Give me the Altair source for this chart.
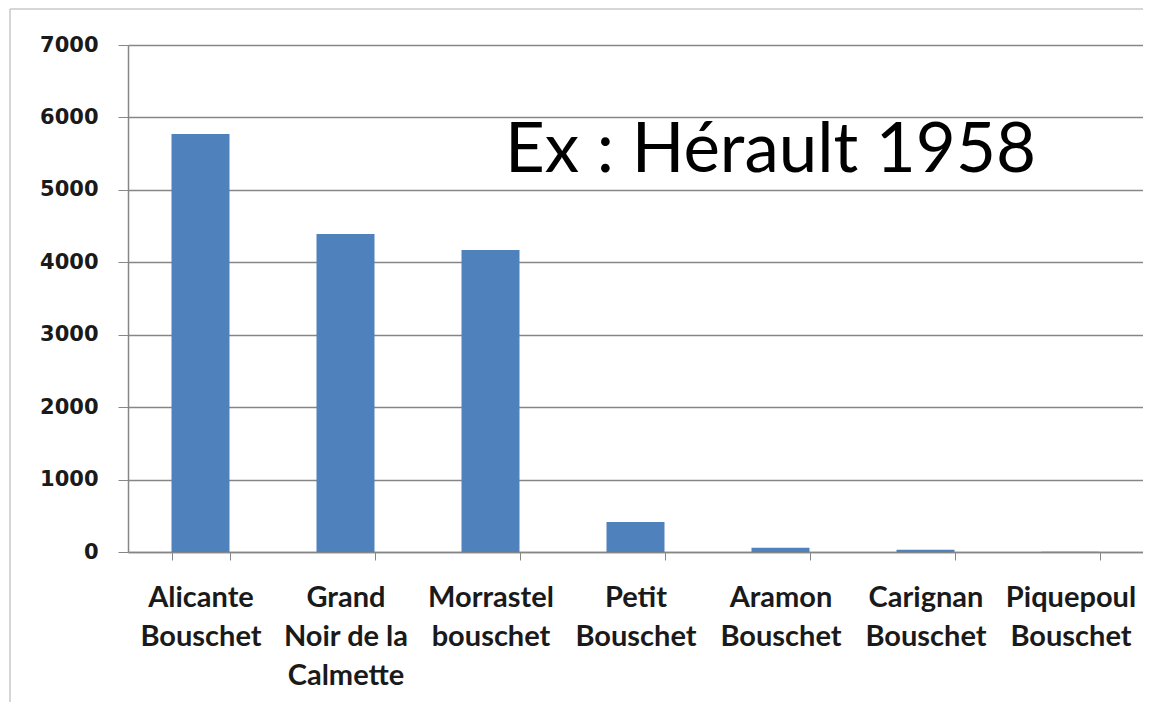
import altair as alt
import pandas as pd

categories = [
    "Alicante\nBouschet",
    "Grand\nNoir de la\nCalmette",
    "Morrastel\nbouschet",
    "Petit\nBouschet",
    "Aramon\nBouschet",
    "Carignan\nBouschet",
    "Piquepoul\nBouschet",
]
values = [5770, 4390, 4170, 415, 60, 30, 3]
y_ticks = [0, 1000, 2000, 3000, 4000, 5000, 6000, 7000]
annotation = "Ex : Hérault 1958"

df = pd.DataFrame({"cat": categories, "val": values})

bars = alt.Chart(df).mark_bar(color="#4F81BD").encode(
    x=alt.X(
        "cat:N",
        sort=categories,
        title=None,
        scale=alt.Scale(paddingInner=0.6, paddingOuter=0.3),
        axis=alt.Axis(
            labelAngle=0,
            labelExpr="split(datum.label, '\\n')",
            labelFont="Lato",
            labelFontWeight="bold",
            labelFontSize=29,
            labelColor="#1a1a1a",
            labelLineHeight=39,
            labelBaseline="top",
            labelPadding=23,
            tickBand="extent",
            tickSize=8,
            tickColor="#868686",
            domainColor="#868686",
            domainWidth=1.5,
            grid=False,
        ),
    ),
    y=alt.Y(
        "val:Q",
        title=None,
        scale=alt.Scale(domain=[0, 7000], nice=False),
        axis=alt.Axis(
            values=y_ticks,
            format="d",
            labelFont="DejaVu Sans",
            labelFontWeight="bold",
            labelFontSize=21,
            labelColor="#1a1a1a",
            labelPadding=20,
            tickSize=10,
            tickColor="#868686",
            domainColor="#868686",
            domainWidth=1.5,
            gridColor="#868686",
            gridWidth=1.5,
        ),
    ),
)

label = alt.Chart(pd.DataFrame({"t": [annotation]})).mark_text(
    font="Lato", fontSize=69, color="black", align="left", baseline="alphabetic"
).encode(text="t:N", x=alt.value(377), y=alt.value(127))

border = alt.Chart(pd.DataFrame({"a": [0]})).mark_rule(
    color="#c8c8c8", strokeWidth=1.5, clip=False
).encode(x=alt.value(-118), y=alt.value(-36), y2=alt.value(680))

border_top = alt.Chart(pd.DataFrame({"a": [0]})).mark_rule(
    color="#c8c8c8", strokeWidth=1.5, clip=False
).encode(x=alt.value(-118), x2=alt.value(1015), y=alt.value(-36))

chart = (
    alt.layer(border, border_top, bars, label)
    .properties(
        width=1015,
        height=507,
        autosize=alt.AutoSizeParams(type="none"),
        padding={"left": 120, "top": 37, "right": 0, "bottom": 150},
    )
    .configure_view(stroke=None)
    .configure(background="white")
)

chart.save("out.html", embed_options={"renderer": "svg", "actions": False})
